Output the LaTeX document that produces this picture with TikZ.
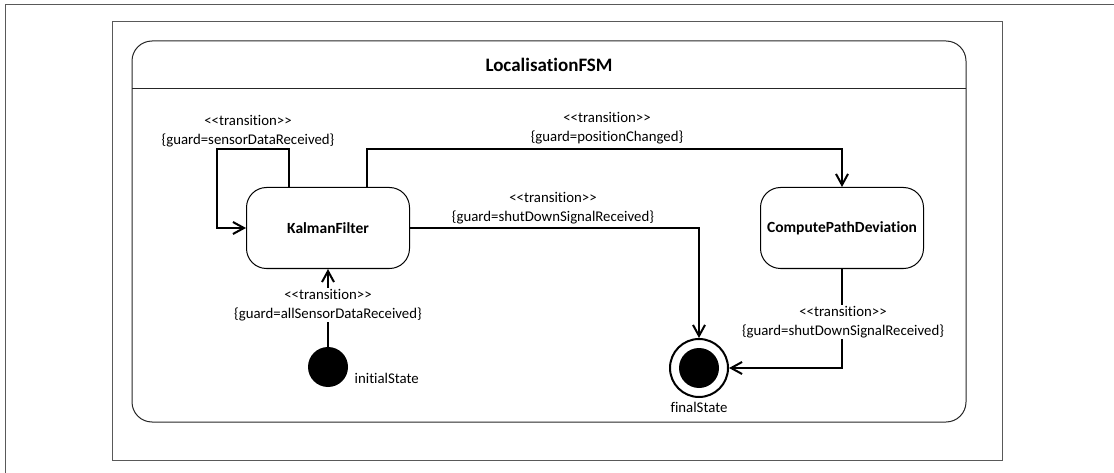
\documentclass[tikz,border=0pt]{standalone}
\usepackage{fontspec}
\setmainfont{Carlito}[Ligatures=NoCommon]
\usetikzlibrary{positioning}
\usetikzlibrary{arrows.meta}
\newcommand{\guardtext}[1]{<{}<transition>{}>\\\{guard=#1\}}

\begin{document}
\begin{tikzpicture}[
        x=1pt, y=-1pt,
        every node/.style={font=\fontsize{14.8}{19}\selectfont},
        state/.style={draw, rounded corners=20pt, line width=1pt, minimum width=163pt, minimum height=81pt, font=\fontsize{15.5}{19}\selectfont\bfseries},
        trans/.style={line width=2pt, -{Straight Barb[length=11pt, width=12pt]}},
        guard/.style={align=center, fill=white, inner sep=1pt},
        frame/.style={draw=black!65, line width=1pt}
    ]
        \useasboundingbox (0,0) rectangle (1114,473);
        % page frame and state machine container
        \draw[frame] (5,473) -- (5,5) -- (1114,5);
        \draw[frame] (112,22) rectangle (1002,460);
        \draw[frame, black!85, rounded corners=20pt] (132,41) rectangle (966,422);
        \draw[frame, black!85] (132,89) -- (966,89);
        \node[font=\fontsize{19}{22}\selectfont\bfseries] (title) at (549,65) {LocalisationFSM};

        \node[state] (kf) at (328,228) {KalmanFilter};
        \node[state] (cpd) at (842,228) {ComputePathDeviation};
        \node[circle, fill, minimum size=40pt, inner sep=0pt] (init) at (328,367) {};
        \node[anchor=west] (initname) at ([xshift=3pt, yshift=-11pt]init.east) {initialState};
        \node[circle, draw, line width=2pt, minimum size=58pt, inner sep=0pt] (final) at (699,368) {};
        \node[circle, fill, minimum size=40pt, inner sep=0pt] (finaldot) at (final) {};
        \node[below=1pt of final] (finalname) {finalState};

        \draw[trans] ([xshift=-39pt]kf.north) |- ([xshift=-111pt, yshift=38pt]kf.north) |- (kf.west);
        \node[guard] (g1) at (248,131) {\guardtext{sensorDataReceived}};

        \draw[trans] ([xshift=39pt]kf.north) |- ([yshift=38pt]cpd.north) -- (cpd.north);
        \node[guard] (g2) at (607,128) {\guardtext{positionChanged}};

        \draw[trans] (kf.east) -| (final.north);
        \node[guard] (g3) at (553,208) {\guardtext{shutDownSignalReceived}};

        \draw[trans] (cpd.south) |- (final.east);
        \node[guard] (g4) at (843,322) {\guardtext{shutDownSignalReceived}};

        \draw[trans] (init.north) -- (kf.south);
        \node[guard] (g5) at (328,305) {\guardtext{allSensorDataReceived}};
    \end{tikzpicture}
\end{document}
